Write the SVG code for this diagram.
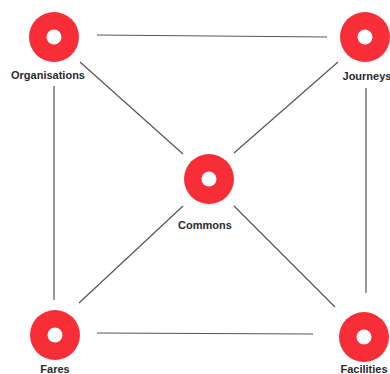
<svg xmlns="http://www.w3.org/2000/svg" width="390" height="374" viewBox="0 0 390 374">
<style>
.edge{stroke:#555;stroke-width:1.2;fill:none}
.ring{fill:#f72d38}
.hole{fill:#fff}
.lbl{font-family:"Liberation Sans",Arial,sans-serif;font-weight:bold;font-size:11px;fill:#2a2a2a;text-anchor:middle}
</style>
<rect width="390" height="374" fill="#fff"/>
<g id="connectors">
<line class="edge" x1="97" y1="35" x2="327" y2="37"/>
<line class="edge" x1="54" y1="86" x2="54" y2="300"/>
<line class="edge" x1="366" y1="88" x2="366" y2="293"/>
<line class="edge" x1="97" y1="333" x2="313" y2="334"/>
<line class="edge" x1="80" y1="62" x2="183" y2="154"/>
<line class="edge" x1="338" y1="62" x2="234" y2="153"/>
<line class="edge" x1="183" y1="206" x2="79" y2="303"/>
<line class="edge" x1="234" y1="206" x2="335" y2="307"/>
</g>
<g id="organisations">
<circle class="ring" cx="54" cy="37" r="25"/><circle class="hole" cx="54" cy="37" r="7.5"/>
<text class="lbl" x="48" y="79">Organisations</text>
</g>
<g id="journeys">
<circle class="ring" cx="365" cy="37" r="25"/><circle class="hole" cx="365" cy="37" r="7.5"/>
<text class="lbl" x="367" y="80">Journeys</text>
</g>
<g id="commons">
<circle class="ring" cx="209" cy="179" r="25"/><circle class="hole" cx="209" cy="179" r="7.5"/>
<text class="lbl" x="205" y="229">Commons</text>
</g>
<g id="fares">
<circle class="ring" cx="55" cy="335" r="25"/><circle class="hole" cx="55" cy="335" r="7.5"/>
<text class="lbl" x="55" y="373">Fares</text>
</g>
<g id="facilities">
<circle class="ring" cx="364" cy="337" r="25"/><circle class="hole" cx="364" cy="337" r="7.5"/>
<text class="lbl" x="364" y="373">Facilities</text>
</g>
</svg>
